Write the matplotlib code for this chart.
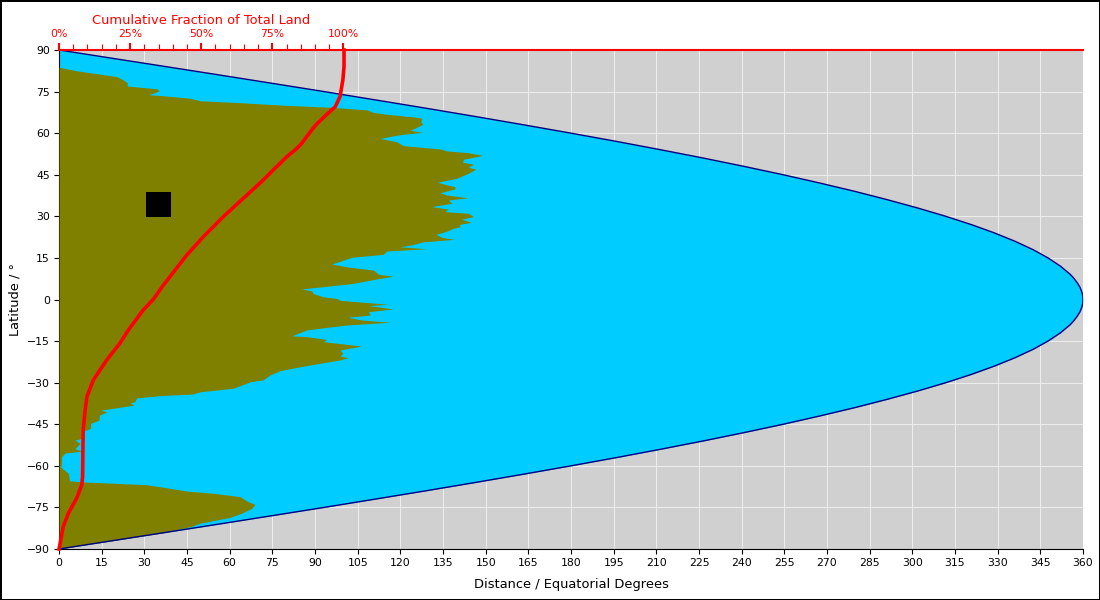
import matplotlib
matplotlib.use('Agg')
import matplotlib.pyplot as plt

# length of each parallel, in equatorial degrees
parallel_lat = [90, 87, 84, 81, 78, 75, 72, 69, 66, 63, 60, 57, 54, 51, 48, 45, 42, 39, 36, 33, 30,
                27, 24, 21, 18, 15, 12, 9, 7.5, 6, 4.5, 3, 1.5, 0,
                -1.5, -3, -4.5, -6, -7.5, -9, -12, -15, -18, -21, -24, -27, -30, -33, -36, -39, -42, -45,
                -48, -51, -54, -57, -60, -63, -66, -69, -72, -75, -78, -81, -84, -87, -90]
parallel_len = [0, 18.8, 37.6, 56.3, 74.8, 93.2, 111.2, 129.0, 146.4, 163.4, 180, 196.1, 211.6, 226.6,
                240.9, 254.6, 267.5, 279.8, 291.2, 301.9, 311.8, 320.8, 328.9, 336.1, 342.4, 347.7,
                352.1, 355.6, 356.9, 358.0, 358.9, 359.5, 359.9, 360,
                359.9, 359.5, 358.9, 358.0, 356.9, 355.6, 352.1, 347.7, 342.4, 336.1, 328.9, 320.8,
                311.8, 301.9, 291.2, 279.8, 267.5, 254.6, 240.9, 226.6, 211.6, 196.1, 180, 163.4,
                146.4, 129.0, 111.2, 93.2, 74.8, 56.3, 37.6, 18.8, 0]

# land at each latitude
land_lat = [83.8, 82.5, 81.3, 80.4, 79.2, 78.2, 77.0, 76.0, 75.3, 74.4, 73.9, 73.5, 72.6, 71.7, 71.0,
            70.1, 69.3, 68.4, 67.5, 66.8, 65.9, 65.4, 64.1, 63.2, 61.8, 61.1, 60.3, 59.6, 59.0, 58.1,
            56.9, 55.5, 54.3, 53.6, 53.0, 52.0, 50.6, 49.5, 48.8, 47.7, 47.0, 45.3, 43.7, 42.3, 41.2,
            40.7, 39.9, 38.5, 37.7, 36.7, 35.9, 34.7, 33.5, 32.6, 31.7, 31.1, 29.9, 29.0, 27.8, 27.1,
            26.2, 25.7, 24.7, 23.5, 22.4, 21.7, 20.8, 19.7, 19.0, 18.3, 17.5, 16.3, 15.2, 12.8, 11.8,
            10.6, 9.1, 8.4, 7.4, 5.8, 3.8, 3.1, 2.2, 1.0, 0.4, -0.3, -1.0, -1.7, -2.2, -3.4, -4.4,
            -5.6, -6.4, -7.4, -8.2, -9.2, -10.2, -11.0, -13.1, -13.4, -14.4, -15.2, -16.8, -18.2,
            -19.4, -20.4, -21.0, -21.8, -23.0, -24.4, -25.7, -27.2, -29.0, -29.7, -32.0, -33.3,
            -34.1, -34.7, -35.5, -36.8, -37.4, -38.1, -39.9, -40.6, -41.7, -43.5, -44.7, -46.5,
            -47.7, -50.1, -50.7, -51.9, -53.8, -54.7, -55.4, -56.7, -59.1, -60.4, -61.5, -62.7,
            -65.4, -65.8, -66.8, -68.1, -69.1, -69.9, -71.1, -73.0, -73.9, -75.3, -77.1, -78.6,
            -80.7, -82.0, -82.9, -84, -87, -90]
land_len = [0, 6.2, 14.4, 20.3, 22.6, 24.0, 24.0, 34.4, 35.3, 33.2, 31.4, 36.6, 46.1, 49.6, 63.6,
            78.8, 96.3, 108.3, 110.4, 115.3, 124.5, 127.5, 127.2, 127.9, 125.2, 123.4, 127.7, 121.0,
            117.4, 112.9, 118.7, 121.1, 134.0, 136.3, 143.4, 149.0, 142.2, 141.9, 145.7, 143.9,
            146.6, 143.4, 139.8, 133.0, 136.9, 139.2, 139.2, 134.0, 136.3, 143.6, 136.9, 138.1,
            131.0, 136.9, 135.7, 143.9, 145.7, 141.6, 144.9, 140.8, 141.0, 138.6, 136.5, 132.6,
            134.6, 139.0, 128.1, 124.0, 119.9, 129.3, 115.2, 114.0, 102.9, 95.9, 101.2, 110.5,
            112.3, 117.5, 111.7, 103.4, 85.3, 88.9, 89.3, 92.8, 97.6, 98.8, 107.0, 115.8, 108.8,
            117.5, 108.8, 109.4, 101.7, 106.4, 116.4, 101.2, 92.9, 87.1, 81.8, 87.1, 94.1, 92.9,
            106.4, 98.8, 99.8, 98.8, 101.7, 98.8, 91.8, 84.0, 77.7, 74.2, 71.7, 67.2, 61.3, 49.6,
            47.1, 35.2, 27.3, 26.7, 25.0, 26.4, 14.7, 16.9, 14.2, 14.1, 11.1, 11.1, 8.0, 8.0, 5.6,
            7.4, 5.6, 8.0, 2.1, 0.9, 0.9, 0.6, 1.8, 3.3, 3.7, 8.5, 30.8, 39.0, 44.9, 54.3, 63.6,
            66.6, 68.9, 67.8, 64.2, 60.1, 49.6, 46.1, 41.9, 37.6, 18.8, 0]

# cumulative share of land, counted from the south pole
cum_lat = [90, 84.0, 79.2, 73.2, 69.5, 67.3, 63.3, 61.1, 56.3, 54.5, 51.5, 46.7, 43.1, 36.5, 29.9,
           22.6, 16.0, 5.2, 0.1, -3.8, -11.0, -15.8, -21.8, -29.0, -35.1, -39.9, -47.1, -63.9,
           -66.9, -71.7, -77.1, -81.9, -88.0, -90]
cum_pct = [100.2, 100.2, 99.8, 98.8, 97.1, 94.7, 90.6, 88.8, 85.3, 83.6, 80.1, 75.3, 71.8, 64.8,
           57.8, 50.7, 44.9, 36.7, 33.2, 29.6, 24.4, 21.4, 16.8, 12.1, 9.8, 9.2, 8.5, 8.3, 8.0, 6.2,
           3.3, 1.5, 0.4, 0]

square_x = [34.8]
square_y = [34.5]

x_ticks = list(range(0, 361, 15))
y_ticks = list(range(-90, 91, 15))
pct_major = [0, 25, 50, 75, 100]
pct_minor = [5, 10, 15, 20, 30, 35, 40, 45, 55, 60, 65, 70, 80, 85, 90, 95]

fig = plt.figure(figsize=(11, 6), dpi=100, facecolor='white', edgecolor='black', linewidth=2)
ax = fig.add_axes([59 / 1100, 51 / 600, 1024 / 1100, 499 / 600])
ax.set_facecolor('#d0d0d0')
ax.set_xlim(0, 360)
ax.set_ylim(-90, 90)
ax.set_xticks(x_ticks)
ax.set_yticks(y_ticks)
ax.tick_params(labelsize=7.8, length=3.5, width=0.8, pad=3)
ax.grid(True, color='#eeeeee', linewidth=0.7)
ax.set_axisbelow(True)
ax.spines['top'].set_visible(False)
ax.spines['right'].set_visible(False)

ax.fill_betweenx(parallel_lat, 0, parallel_len, color='#00ccff', linewidth=0, zorder=2)
ax.fill_betweenx(land_lat, 0, land_len, color='#808000', linewidth=0, zorder=3)
ax.plot(parallel_len, parallel_lat, color='navy', linewidth=1, zorder=4)
ax.plot(square_x, square_y, 's', color='black', markersize=18, markeredgewidth=0, zorder=5)
ax.plot(cum_pct, cum_lat, color='red', linewidth=2.6, zorder=6, clip_on=False)

ax.set_xlabel('Distance / Equatorial Degrees', fontsize=9.4, labelpad=7)
ax.set_ylabel('Latitude / °', fontsize=9.4, labelpad=4)

ax2 = ax.twiny()
ax2.set_xlim(0, 360)
ax2.set_xticks(pct_major)
ax2.set_xticklabels([str(p) + '%' for p in pct_major])
ax2.set_xticks(pct_minor, minor=True)
ax2.tick_params(axis='x', which='major', colors='red', labelsize=7.8, length=5, width=1.5, pad=3)
ax2.tick_params(axis='x', which='minor', colors='red', length=4, width=0.8)
for name in ['left', 'right', 'bottom']:
    ax2.spines[name].set_visible(False)
ax2.spines['top'].set_color('red')
ax2.spines['top'].set_linewidth(1.5)
ax2.text(50, 1.046, 'Cumulative Fraction of Total Land', color='red', fontsize=9.4, ha='center',
         va='bottom', transform=ax2.get_xaxis_transform())

fig.savefig('out.png', dpi=100)
